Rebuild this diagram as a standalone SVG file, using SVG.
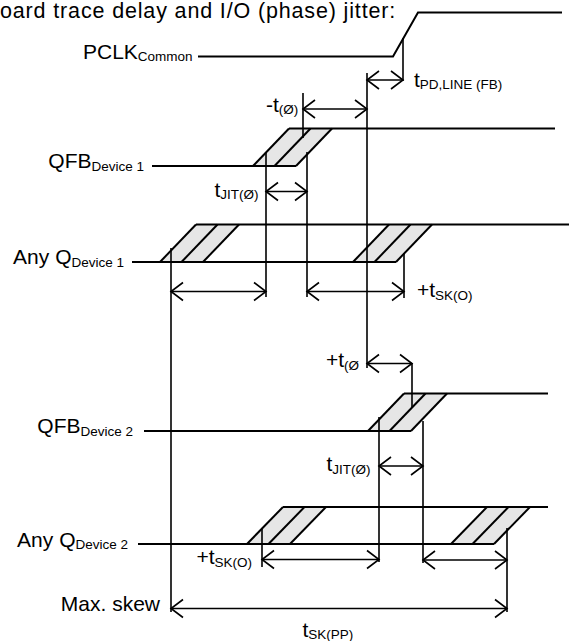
<svg xmlns="http://www.w3.org/2000/svg" width="569" height="641" viewBox="0 0 569 641">
<style>
text{font-family:"Liberation Sans",Arial,sans-serif;fill:#000}
.lbl{font-size:21px}
.sub{font-size:13.5px}
.ttl{font-size:21.5px;letter-spacing:0.85px}
.sig{stroke:#000;stroke-width:2;fill:none;stroke-linecap:butt}
.hatch{fill:#e6e6e6;stroke:none}
.sl{stroke:#000;stroke-width:2;fill:none}
.v{stroke:#000;stroke-width:1.6;fill:none}
.arr{stroke:#000;stroke-width:1.6;fill:none;marker-start:url(#ah);marker-end:url(#ah)}
</style>
<defs>
<marker id="ah" viewBox="-14 -11 16 22" markerWidth="16" markerHeight="22" refX="0" refY="0" orient="auto-start-reverse" markerUnits="userSpaceOnUse" overflow="visible">
<path d="M-12,-9 L0,0 L-12,9" fill="none" stroke="#000" stroke-width="1.6"/>
</marker>
</defs>
<rect width="569" height="641" fill="#fff"/>

<g id="title">
<text class="ttl" x="0" y="18">oard trace delay and I/O (phase) jitter:</text>
</g>

<g id="pclk">
<text class="lbl" x="83" y="58.5">PCLK<tspan class="sub" dy="2">Common</tspan></text>
<polyline class="sig" points="198,56.5 393,56.5 418,12.5 562,12.5"/>
</g>

<g id="qfb1">
<text class="lbl" x="144" y="168" text-anchor="end">QFB<tspan class="sub" dy="3">Device 1</tspan></text>
<polygon class="hatch" points="253,166 289,128.5 332,128.5 296,166"/>
<line class="sl" x1="253" y1="166" x2="289" y2="128.5"/>
<line class="sl" x1="274.5" y1="166" x2="310.5" y2="128.5"/>
<line class="sl" x1="296" y1="166" x2="332" y2="128.5"/>
<line class="sig" x1="152" y1="166" x2="296" y2="166"/>
<line class="sig" x1="289" y1="128.5" x2="555" y2="128.5"/>
</g>

<g id="anyq1">
<text class="lbl" x="124" y="264" text-anchor="end">Any Q<tspan class="sub" dy="2.5">Device 1</tspan></text>
<polygon class="hatch" points="160,262 196,224.5 239,224.5 203,262"/>
<line class="sl" x1="160" y1="262" x2="196" y2="224.5"/>
<line class="sl" x1="181.5" y1="262" x2="217.5" y2="224.5"/>
<line class="sl" x1="203" y1="262" x2="239" y2="224.5"/>
<polygon class="hatch" points="353,262 389,224.5 432,224.5 396,262"/>
<line class="sl" x1="353" y1="262" x2="389" y2="224.5"/>
<line class="sl" x1="374.5" y1="262" x2="410.5" y2="224.5"/>
<line class="sl" x1="396" y1="262" x2="432" y2="224.5"/>
<line class="sig" x1="132" y1="262" x2="396" y2="262"/>
<line class="sig" x1="196" y1="224.5" x2="569" y2="224.5"/>
</g>

<g id="qfb2">
<text class="lbl" x="133" y="433" text-anchor="end">QFB<tspan class="sub" dy="3">Device 2</tspan></text>
<polygon class="hatch" points="368,431 404,393.5 447,393.5 411,431"/>
<line class="sl" x1="368" y1="431" x2="404" y2="393.5"/>
<line class="sl" x1="389.5" y1="431" x2="425.5" y2="393.5"/>
<line class="sl" x1="411" y1="431" x2="447" y2="393.5"/>
<line class="sig" x1="144" y1="431" x2="411" y2="431"/>
<line class="sig" x1="404" y1="393.5" x2="548" y2="393.5"/>
</g>

<g id="anyq2">
<text class="lbl" x="128" y="546.5" text-anchor="end">Any Q<tspan class="sub" dy="2.5">Device 2</tspan></text>
<polygon class="hatch" points="247,544 283,507 326,507 290,544"/>
<line class="sl" x1="247" y1="544" x2="283" y2="507"/>
<line class="sl" x1="268.5" y1="544" x2="304.5" y2="507"/>
<line class="sl" x1="290" y1="544" x2="326" y2="507"/>
<polygon class="hatch" points="451,544 487,507 530,507 494,544"/>
<line class="sl" x1="451" y1="544" x2="487" y2="507"/>
<line class="sl" x1="472.5" y1="544" x2="508.5" y2="507"/>
<line class="sl" x1="494" y1="544" x2="530" y2="507"/>
<line class="sig" x1="138" y1="544" x2="494" y2="544"/>
<line class="sig" x1="283" y1="507" x2="548" y2="507"/>
</g>

<g id="labels">
<text class="lbl" x="414" y="87">t<tspan class="sub" dy="2">PD,LINE (FB)</tspan></text>
<text class="lbl" x="266" y="111.5">-t<tspan class="sub" dy="2.5">(Ø)</tspan></text>
<text class="lbl" x="214.5" y="196.5">t<tspan class="sub" dy="2.5">JIT(Ø)</tspan></text>
<text class="lbl" x="417" y="297">+t<tspan class="sub" dy="3">SK(O)</tspan></text>
<text class="lbl" x="326" y="367">+t<tspan class="sub" dy="2.5">(Ø</tspan></text>
<text class="lbl" x="326.5" y="471">t<tspan class="sub" dy="2.5">JIT(Ø)</tspan></text>
<text class="lbl" x="196.5" y="563.5">+t<tspan class="sub" dy="3">SK(O)</tspan></text>
<text class="lbl" x="160" y="610.5" text-anchor="end">Max. skew</text>
<text class="lbl" x="302.5" y="636.5">t<tspan class="sub" dy="2.5">SK(PP)</tspan></text>
</g>

<g id="connectors">
<line class="v" x1="403" y1="38" x2="403" y2="81"/>
<line class="v" x1="367" y1="73" x2="367" y2="368"/>
<line class="v" x1="303" y1="93" x2="303" y2="138"/>
<line class="v" x1="266" y1="152" x2="266" y2="297"/>
<line class="v" x1="307" y1="152" x2="307" y2="297"/>
<line class="v" x1="171" y1="248" x2="171" y2="612"/>
<line class="v" x1="404" y1="253" x2="404" y2="298"/>
<line class="v" x1="412" y1="363" x2="412" y2="407"/>
<line class="v" x1="379" y1="417" x2="379" y2="562"/>
<line class="v" x1="423" y1="421" x2="423" y2="563"/>
<line class="v" x1="262" y1="528" x2="262" y2="567"/>
<line class="v" x1="507" y1="528" x2="507" y2="612"/>
<line class="arr" x1="367" y1="80" x2="403" y2="80"/>
<line class="arr" x1="303" y1="109" x2="367" y2="109"/>
<line class="arr" x1="266" y1="191.5" x2="307" y2="191.5"/>
<line class="arr" x1="171" y1="291.5" x2="266" y2="291.5"/>
<line class="arr" x1="307" y1="291.5" x2="404" y2="291.5"/>
<line class="arr" x1="367" y1="363.5" x2="412" y2="363.5"/>
<line class="arr" x1="379" y1="466" x2="423" y2="466"/>
<line class="arr" x1="262" y1="559.5" x2="379" y2="559.5"/>
<line class="arr" x1="423" y1="560" x2="507" y2="560"/>
<line class="arr" x1="171" y1="608.5" x2="507" y2="608.5"/>
</g>
</svg>
